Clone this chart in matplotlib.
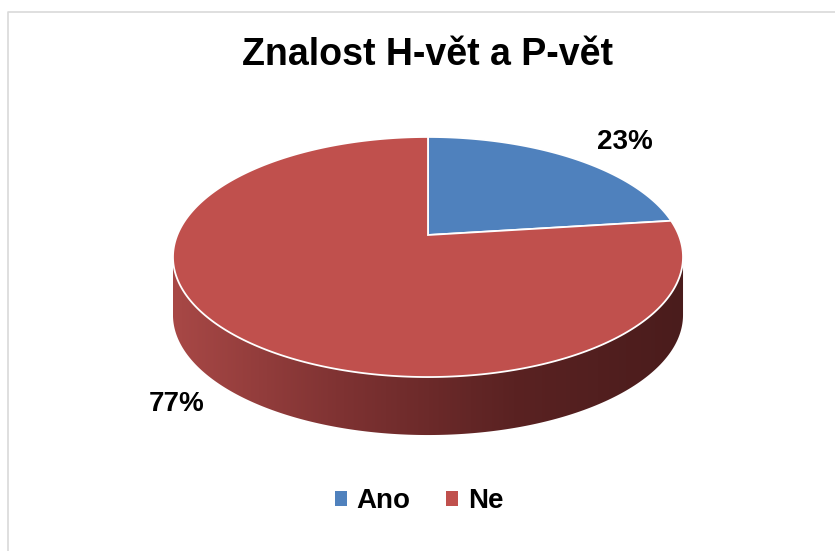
import numpy as np
import matplotlib
matplotlib.use('Agg')
import matplotlib.pyplot as plt
from matplotlib.patches import Polygon, Patch
from matplotlib.colors import LinearSegmentedColormap

plt.rcParams['font.family'] = ['Liberation Sans', 'DejaVu Sans']
plt.rcParams['font.weight'] = 'bold'

# data
categories = ['Ano', 'Ne']
values = [23, 77]
colors = ['#4F81BD', '#C0504D']
title = 'Znalost H-vět a P-vět'

fig = plt.figure(figsize=(8.35, 5.51), dpi=100)
ax = fig.add_axes([0, 0, 1, 1])
ax.set_xlim(0, 835)
ax.set_ylim(551, 0)
ax.axis('off')

# chart frame
ax.plot([8, 8, 840], [560, 12, 12], color='#d9d9d9', lw=1.2)

# perspective projection of the pie disk
cx, cy = 428, 235
A, B, p = 250.7, 116.0, 0.1833
depth = 58


def proj(theta, dy=0.0):
    X = np.sin(theta)
    Y = np.cos(theta)
    w = 1 + p * Y
    return cx + A * X / w, cy - B * Y / w + dy


# side of the cylinder (only the front part is visible)
t0 = np.pi - np.arccos(p)
t1 = np.pi + np.arccos(p)
ts = np.linspace(t0, t1, 200)
xt, yt = proj(ts)
xb, yb = proj(ts[::-1], depth)
side = Polygon(np.column_stack([np.r_[xt, xb], np.r_[yt, yb]]),
               closed=True, facecolor='none', edgecolor='none')
ax.add_patch(side)
cmap = LinearSegmentedColormap.from_list(
    'side', ['#4a1c1c', '#5a2222', '#7e3232', '#a84846'])
grad = np.linspace(0, 1, 256)[None, :]
im = ax.imshow(grad, cmap=cmap, aspect='auto',
               extent=(xt.max(), xt.min(), yb.max() + 2, yt.min() - 2),
               interpolation='bicubic', zorder=1)
im.set_clip_path(side)

# top faces
fracs = np.array(values) / sum(values)
start = 0.0
for frac, col in zip(fracs, colors):
    end = start + frac * 2 * np.pi
    th = np.linspace(start, end, 300)
    x, y = proj(th)
    pts = np.column_stack([np.r_[cx, x], np.r_[cy, y]])
    ax.add_patch(Polygon(pts, closed=True, facecolor=col,
                         edgecolor='white', lw=1.3, zorder=2))
    start = end

# data labels
ax.text(625, 149, '23%', fontsize=20, ha='center', va='baseline')
ax.text(177, 411, '77%', fontsize=20, ha='center', va='baseline')

ax.text(427.5, 65, title, fontsize=27, ha='center', va='baseline')

handles = [Patch(facecolor=c, edgecolor='none', label=l)
           for c, l in zip(colors, categories)]
fig.legend(handles=handles, loc='center', bbox_to_anchor=(0.502, 0.090),
           ncol=2, frameon=False, fontsize=20, handlelength=0.42,
           handleheight=0.42, handletextpad=0.35, columnspacing=1.3,
           borderpad=0.2)

fig.savefig('out.png', dpi=100)
